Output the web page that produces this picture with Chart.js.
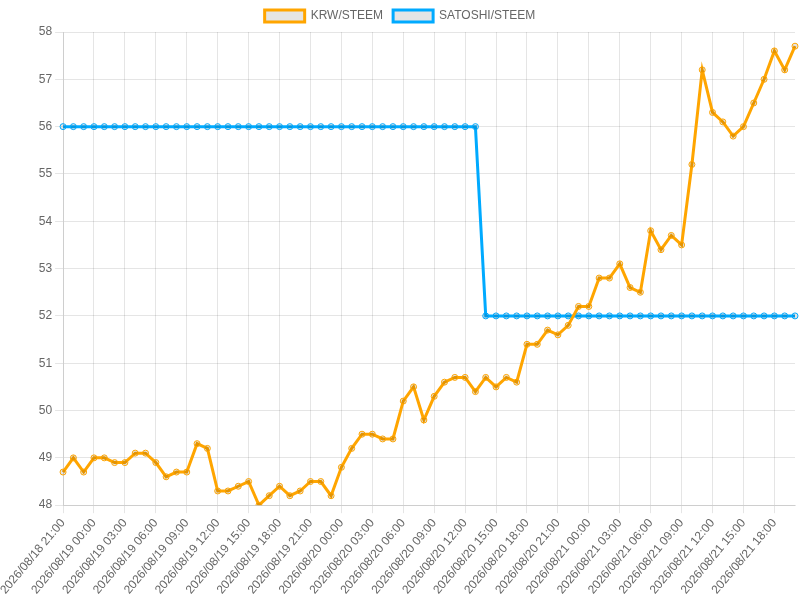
<!DOCTYPE html>
<html>
<head>
<meta charset="utf-8">
<script src="https://cdn.jsdelivr.net/npm/chart.js@4/dist/chart.umd.min.js"></script>
<style>
html,body{margin:0;padding:0;background:#fff;}
canvas{display:block;}
</style>
</head>
<body>
<canvas id="c" width="800" height="600"></canvas>
<script>
const labels = [
"2026/08/18 21:00","2026/08/18 22:00","2026/08/18 23:00",
"2026/08/19 00:00","2026/08/19 01:00","2026/08/19 02:00","2026/08/19 03:00","2026/08/19 04:00","2026/08/19 05:00",
"2026/08/19 06:00","2026/08/19 07:00","2026/08/19 08:00","2026/08/19 09:00","2026/08/19 10:00","2026/08/19 11:00",
"2026/08/19 12:00","2026/08/19 13:00","2026/08/19 14:00","2026/08/19 15:00","2026/08/19 16:00","2026/08/19 17:00",
"2026/08/19 18:00","2026/08/19 19:00","2026/08/19 20:00","2026/08/19 21:00","2026/08/19 22:00","2026/08/19 23:00",
"2026/08/20 00:00","2026/08/20 01:00","2026/08/20 02:00","2026/08/20 03:00","2026/08/20 04:00","2026/08/20 05:00",
"2026/08/20 06:00","2026/08/20 07:00","2026/08/20 08:00","2026/08/20 09:00","2026/08/20 10:00","2026/08/20 11:00",
"2026/08/20 12:00","2026/08/20 13:00","2026/08/20 14:00","2026/08/20 15:00","2026/08/20 16:00","2026/08/20 17:00",
"2026/08/20 18:00","2026/08/20 19:00","2026/08/20 20:00","2026/08/20 21:00","2026/08/20 22:00","2026/08/20 23:00",
"2026/08/21 00:00","2026/08/21 01:00","2026/08/21 02:00","2026/08/21 03:00","2026/08/21 04:00","2026/08/21 05:00",
"2026/08/21 06:00","2026/08/21 07:00","2026/08/21 08:00","2026/08/21 09:00","2026/08/21 10:00","2026/08/21 11:00",
"2026/08/21 12:00","2026/08/21 13:00","2026/08/21 14:00","2026/08/21 15:00","2026/08/21 16:00","2026/08/21 17:00",
"2026/08/21 18:00","2026/08/21 19:00","2026/08/21 20:00"
];

const krwSteem = [
48.7,49.0,48.7,49.0,49.0,48.9,48.9,49.1,49.1,48.9,48.6,48.7,48.7,49.3,49.2,48.3,48.3,48.4,48.5,48.0,
48.2,48.4,48.2,48.3,48.5,48.5,48.2,48.8,49.2,49.5,49.5,49.4,49.4,50.2,50.5,49.8,50.3,50.6,50.7,50.7,
50.4,50.7,50.5,50.7,50.6,51.4,51.4,51.7,51.6,51.8,52.2,52.2,52.8,52.8,53.1,52.6,52.5,53.8,53.4,53.7,
53.5,55.2,57.2,56.3,56.1,55.8,56.0,56.5,57.0,57.6,57.2,57.7
];

const satoshiSteem = [
56,56,56,56,56,56,56,56,56,56,56,56,56,56,56,56,56,56,56,56,
56,56,56,56,56,56,56,56,56,56,56,56,56,56,56,56,56,56,56,56,
56,52,52,52,52,52,52,52,52,52,52,52,52,52,52,52,52,52,52,52,
52,52,52,52,52,52,52,52,52,52,52,52
];

const yTicks = [48,49,50,51,52,53,54,55,56,57,58];
const labelStep = 3;

Chart.defaults.font.family = "'Liberation Sans', Arial, Helvetica, sans-serif";
Chart.defaults.font.size = 12;
Chart.defaults.color = '#666';

const gridColor = ctx => (ctx.index % labelStep === 0 ? 'rgba(0,0,0,0.1)' : 'rgba(0,0,0,0)');

new Chart(document.getElementById('c'), {
  type: 'line',
  data: {
    labels: labels,
    datasets: [
      {
        label: 'KRW/STEEM',
        data: krwSteem,
        borderColor: '#FFA500',
        backgroundColor: 'rgba(0,0,0,0.1)',
        borderWidth: 3,
        pointRadius: 3,
        pointBorderWidth: 1,
        pointBorderColor: '#FFA500',
        pointBackgroundColor: 'rgba(0,0,0,0.1)',
        tension: 0,
        fill: false
      },
      {
        label: 'SATOSHI/STEEM',
        data: satoshiSteem,
        borderColor: '#00AAFF',
        backgroundColor: 'rgba(0,0,0,0.1)',
        borderWidth: 3,
        pointRadius: 3,
        pointBorderWidth: 1,
        pointBorderColor: '#00AAFF',
        pointBackgroundColor: 'rgba(0,0,0,0.1)',
        tension: 0,
        fill: false
      }
    ]
  },
  options: {
    responsive: false,
    animation: false,
    devicePixelRatio: 1,
    plugins: {
      legend: {
        display: true,
        position: 'top',
        labels: { boxWidth: 40, boxHeight: 12, padding: 10, color: '#666' }
      },
      tooltip: { enabled: false }
    },
    scales: {
      x: {
        afterFit: function(scale) { scale.paddingRight = 5; },
        grid: { color: gridColor, tickLength: 8 },
        ticks: {
          autoSkip: false,
          maxRotation: 50,
          minRotation: 50,
          callback: function(value, index) {
            return index % labelStep === 0 ? labels[index] : '';
          }
        }
      },
      y: {
        min: yTicks[0],
        max: yTicks[yTicks.length - 1],
        grid: { color: 'rgba(0,0,0,0.1)', tickLength: 8 },
        ticks: { stepSize: 1 }
      }
    }
  }
});
</script>
</body>
</html>
